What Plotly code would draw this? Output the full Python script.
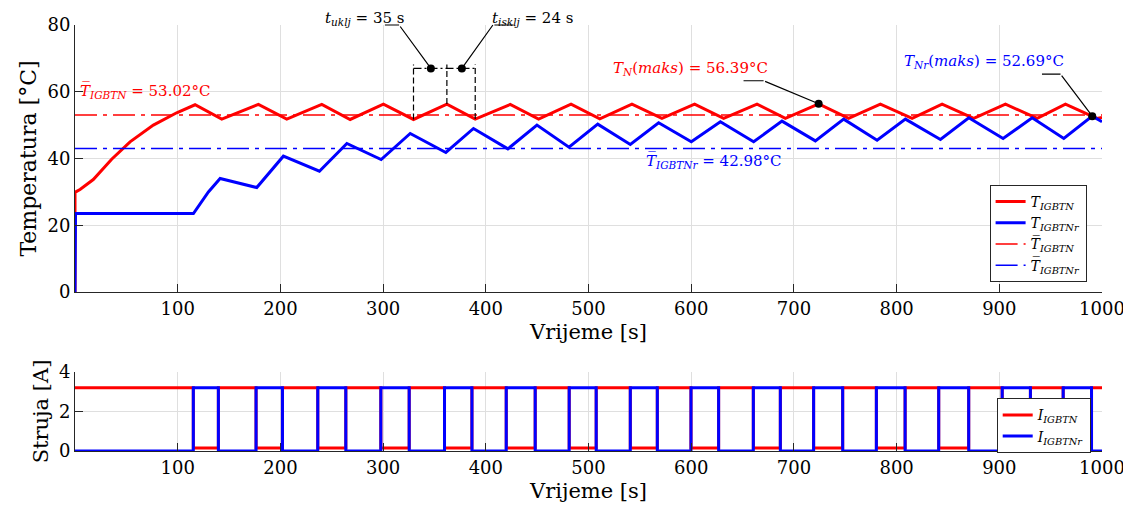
import plotly.graph_objects as go

# ---------------- data ----------------
red_t = [0, 0.0, 0.7, 4.9, 17.8, 35.7, 53.6, 76.3, 99.0, 116.9, 142.9, 178.6, 206.2, 240.3, 267.9,
         300.3, 329.6, 362.1, 389.7, 423.8, 451.4, 483.0, 511.0, 542.3, 571.5, 603.3, 631.6, 664.1,
         691.7, 724.1, 753.3, 784.2, 815.1, 844.3, 875.1, 906.0, 936.9, 964.4, 995.0, 1000]
red_T = [0, 30.0, 30.0, 30.7, 33.7, 39.8, 45.0, 50.0, 53.7, 56.1, 51.8, 56.2, 51.8, 56.2, 51.7,
         56.3, 51.7, 56.3, 51.8, 56.2, 51.8, 56.3, 51.9, 56.3, 52.0, 56.3, 52.0, 56.3,
         52.0, 56.39, 52.0, 56.3, 52.0, 56.3, 52.0, 56.3, 52.0, 56.3, 52.0, 52.3]

blue_t = [0, 0.5, 115.3, 129.9, 141.3, 177.0, 202.9, 238.0, 264.7, 298.1, 326.4, 361.1, 388.0,
          421.5, 449.8, 481.0, 509.0, 540.7, 568.3, 600.1, 628.4, 660.8, 688.4, 720.9, 748.5,
          781.0, 808.6, 842.7, 870.3, 903.7, 932.0, 962.8, 990.5, 1000]
blue_T = [0, 23.5, 23.5, 30.0, 34.0, 31.3, 40.7, 36.2, 44.5, 39.7, 47.5, 41.8, 49.0,
          42.9, 50.0, 43.4, 50.3, 44.2, 50.7, 45.0, 51.0, 45.0, 51.2, 45.3, 51.8,
          45.5, 51.8, 45.7, 52.2, 46.0, 52.2, 46.0, 52.69, 51.0]

red_mean = 53.02
blue_mean = 42.98

blue_on = [115.2, 176.3, 236.4, 297.8, 359.8, 419.9, 481.2, 540.7, 599.8, 660.5, 719.2,
           780.3, 841.0, 902.8, 962.2]
blue_off = [139.6, 202.0, 263.7, 325.4, 386.5, 448.1, 507.5, 567.0, 626.7, 686.8, 747.5,
            808.3, 870.2, 930.3, 989.8]
I_high = 3.2
I_red_low = 0.15
I_blue_low = 0.0

x_ticks = [100, 200, 300, 400, 500, 600, 700, 800, 900, 1000]
yT_ticks = [0, 20, 40, 60, 80]
yI_ticks = [0, 2, 4]

# ---------------- build current step series ----------------
bI_t, bI = [0], [I_blue_low]
rI_t, rI = [0], [I_high]
for on, off in zip(blue_on, blue_off):
    bI_t += [on, off]
    bI += [I_high, I_blue_low]
    rI_t += [on, off]
    rI += [I_red_low, I_high]
bI_t.append(1000); bI.append(I_blue_low)
rI_t.append(1000); rI.append(I_high)

RED = "#ff0000"
BLUE = "#0000ff"
FONT = "DejaVu Serif"
TB = "T\u0305"  # T with overline

fig = go.Figure()

fig.add_trace(go.Scatter(x=red_t, y=red_T, mode="lines", line=dict(color=RED, width=3),
                         name="<i>T</i><sub><i>IGBTN</i></sub>", xaxis="x", yaxis="y"))
fig.add_trace(go.Scatter(x=blue_t, y=blue_T, mode="lines", line=dict(color=BLUE, width=3),
                         name="<i>T</i><sub><i>IGBTNr</i></sub>", xaxis="x", yaxis="y"))
fig.add_trace(go.Scatter(x=[0, 1000], y=[red_mean, red_mean], mode="lines",
                         line=dict(color=RED, width=1.5, dash="22px,6px,4px,6px"),
                         name=f"<i>{TB}</i><sub><i>IGBTN</i></sub>", xaxis="x", yaxis="y"))
fig.add_trace(go.Scatter(x=[0, 1000], y=[blue_mean, blue_mean], mode="lines",
                         line=dict(color=BLUE, width=1.5, dash="22px,6px,4px,6px"),
                         name=f"<i>{TB}</i><sub><i>IGBTNr</i></sub>", xaxis="x", yaxis="y"))

# currents
fig.add_trace(go.Scatter(x=rI_t, y=rI, mode="lines", line=dict(color=RED, width=3, shape="hv"),
                         name="<i>I</i><sub><i>IGBTN</i></sub>", xaxis="x2", yaxis="y2", legend="legend2"))
fig.add_trace(go.Scatter(x=bI_t, y=bI, mode="lines", line=dict(color=BLUE, width=3, shape="hv"),
                         name="<i>I</i><sub><i>IGBTNr</i></sub>", xaxis="x2", yaxis="y2", legend="legend2"))

# ---------------- annotation geometry ----------------
i_rmax = max(range(len(red_T)), key=lambda i: red_T[i])
i_bmax = max(range(len(blue_T)), key=lambda i: blue_T[i])
rmax_t, rmax_T = red_t[i_rmax], red_T[i_rmax]
bmax_t, bmax_T = blue_t[i_bmax], blue_T[i_bmax]

# bracket on one switching cycle (trough - peak - trough of red curve)
c0, c1, c2 = red_t[16], red_t[17], red_t[18]
bracket_y = 67.0
dot_l = 346.5
dot_r = 376.7

shapes = []
for ci, k in [(c0, 16), (c1, 17), (c2, 18)]:
    shapes.append(dict(type="line", xref="x", yref="y", x0=ci, x1=ci, y0=red_T[k], y1=bracket_y + 1.2,
                       line=dict(color="black", width=1.2, dash="6px,3px")))
shapes.append(dict(type="line", xref="x", yref="y", x0=c0, x1=c2, y0=bracket_y, y1=bracket_y,
                   line=dict(color="black", width=1.2, dash="8px,3px,2px,3px")))

fig.add_trace(go.Scatter(x=[dot_l, dot_r, rmax_t, bmax_t], y=[bracket_y, bracket_y, rmax_T, bmax_T],
                         mode="markers", marker=dict(color="black", size=8), showlegend=False,
                         cliponaxis=False, xaxis="x", yaxis="y"))

# leader line segments (tail -> head)
leaders = [
    ((300.3, 80.0), (315.6, 80.0)), ((315.6, 80.0), (dot_l, bracket_y)),
    ((dot_r, bracket_y), (406.9, 80.0)), ((406.9, 80.0), (427.0, 80.0)),
    ((649.5, 63.3), (670.5, 63.3)), ((670.5, 63.3), (rmax_t, rmax_T)),
    ((940.1, 65.3), (959.6, 65.3)), ((959.6, 65.3), (bmax_t, bmax_T)),
]
annotations = []
for (ax_, ay_), (x_, y_) in leaders:
    annotations.append(dict(x=x_, y=y_, ax=ax_, ay=ay_, xref="x", yref="y", axref="x", ayref="y",
                            text="", showarrow=True, arrowhead=0, arrowwidth=1.2, arrowcolor="black",
                            standoff=0, startstandoff=0))

def lab(x, y, text, color, xanchor="center", yref="y"):
    annotations.append(dict(x=x, y=y, xref="x", yref=yref, text=text, showarrow=False,
                            xanchor=xanchor, yanchor="middle",
                            font=dict(family=FONT, size=15, color=color)))

lab(3, 60.3, f"<i>{TB}</i><sub><i>IGBTN</i></sub> = {red_mean:.2f}°C", RED, "left")
lab(622.5, 39.3, f"<i>{TB}</i><sub><i>IGBTNr</i></sub> = {blue_mean:.2f}°C", BLUE)
lab(599, 67.0, f"<i>T</i><sub><i>N</i></sub>(<i>maks</i>) = {rmax_T:.2f}°C", RED)
lab(885.5, 69.0, f"<i>T</i><sub><i>Nr</i></sub>(<i>maks</i>) = {bmax_T:.2f}°C", BLUE)
lab(281.5, 1.024, "<i>t</i><sub><i>uklj</i></sub> = 35 s", "black", yref="y domain")
lab(445, 1.024, "<i>t</i><sub><i>isklj</i></sub> = 24 s", "black", yref="y domain")

axis_common = dict(range=[0, 1000], tickvals=x_ticks, ticks="inside", ticklen=8, tickcolor="#262626",
                   showgrid=True, gridcolor="#dfdfdf", gridwidth=1, showline=True, linecolor="#262626",
                   linewidth=1, zeroline=False, tickfont=dict(family=FONT, size=18, color="black"),
                   automargin=False,
                   title=dict(text="Vrijeme [s]", font=dict(family=FONT, size=21, color="black"), standoff=6))
yaxis_common = dict(ticks="inside", ticklen=8, tickcolor="#262626", showgrid=True, gridcolor="#dfdfdf",
                    showline=True, linecolor="#262626", linewidth=1, zeroline=False, automargin=False,
                    tickfont=dict(family=FONT, size=18, color="black"))

fig.update_layout(
    width=1131, height=517,
    margin=dict(l=67, r=37, t=17, b=74),
    paper_bgcolor="white", plot_bgcolor="white",
    font=dict(family=FONT, color="black"),
    xaxis=dict(axis_common, anchor="y", domain=[0, 1]),
    yaxis=dict(yaxis_common, anchor="x", domain=[0.3732, 1.0], range=[0, 80], tickvals=yT_ticks,
               title=dict(text="Temperatura [°C]", font=dict(family=FONT, size=22, color="black"), standoff=4)),
    xaxis2=dict(axis_common, anchor="y2", domain=[0, 1]),
    yaxis2=dict(yaxis_common, anchor="x2", domain=[0.0, 0.1854], range=[0, 4], tickvals=yI_ticks,
                title=dict(text="Struja [A]", font=dict(family=FONT, size=21, color="black"), standoff=4)),
    legend=dict(x=0.985, y=0.6244, xanchor="right", yanchor="top", bgcolor="white",
                bordercolor="#262626", borderwidth=1, font=dict(family=FONT, size=14, color="black"),
                tracegroupgap=0, itemwidth=30),
    legend2=dict(x=0.989, y=0.1237, xanchor="right", yanchor="top", bgcolor="white",
                 bordercolor="#262626", borderwidth=1, font=dict(family=FONT, size=14, color="black"),
                 itemwidth=30),
    shapes=shapes,
    annotations=annotations,
)

fig.write_html("out.html")
